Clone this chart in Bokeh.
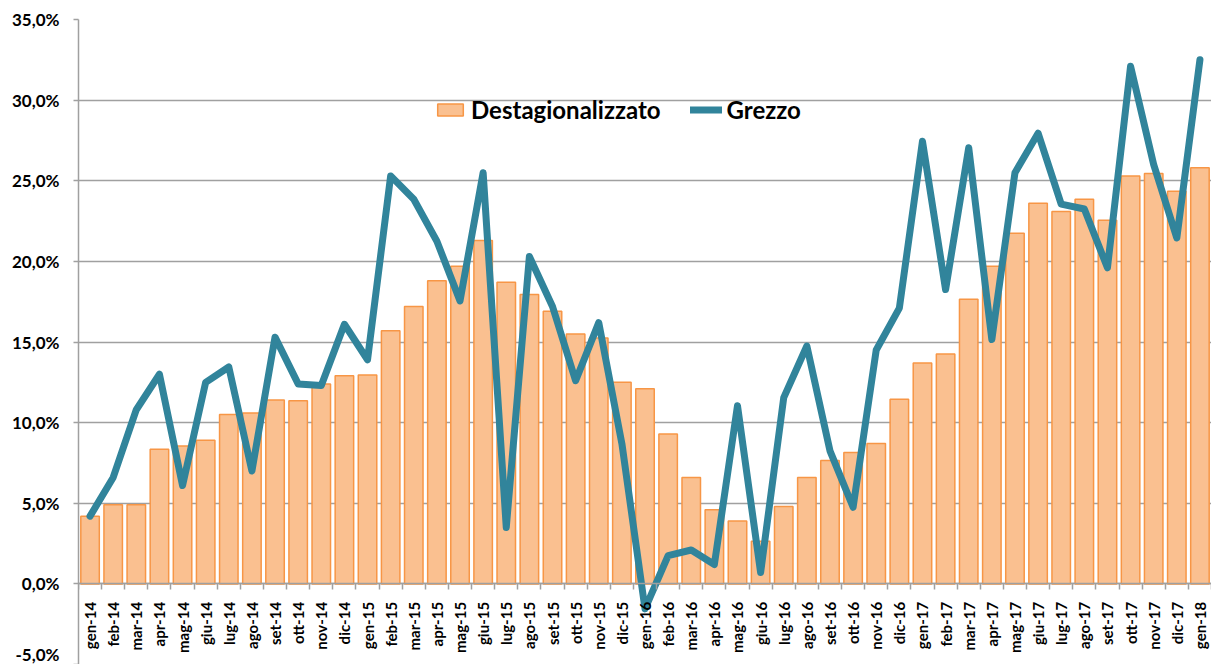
from bokeh.plotting import figure
from bokeh.models import (Range1d, LinearAxis, FixedTicker, CustomJSTickFormatter,
                          ColumnDataSource, Legend, LegendItem)
from bokeh.embed import file_html
from bokeh.resources import INLINE

months = ["gen-14", "feb-14", "mar-14", "apr-14", "mag-14", "giu-14", "lug-14", "ago-14", "set-14", "ott-14", "nov-14", "dic-14",
          "gen-15", "feb-15", "mar-15", "apr-15", "mag-15", "giu-15", "lug-15", "ago-15", "set-15", "ott-15", "nov-15", "dic-15",
          "gen-16", "feb-16", "mar-16", "apr-16", "mag-16", "giu-16", "lug-16", "ago-16", "set-16", "ott-16", "nov-16", "dic-16",
          "gen-17", "feb-17", "mar-17", "apr-17", "mag-17", "giu-17", "lug-17", "ago-17", "set-17", "ott-17", "nov-17", "dic-17",
          "gen-18"]

destagionalizzato = [4.2, 4.9, 4.9, 8.35, 8.55, 8.9, 10.5, 10.6, 11.4, 11.35, 12.4, 12.9,
                     12.95, 15.7, 17.2, 18.8, 19.7, 21.3, 18.7, 17.95, 16.9, 15.5, 15.25, 12.5,
                     12.1, 9.3, 6.6, 4.6, 3.9, 2.65, 4.8, 6.6, 7.65, 8.15, 8.7, 11.45,
                     13.7, 14.25, 17.65, 19.7, 21.75, 23.6, 23.1, 23.85, 22.55, 25.3, 25.45, 24.35,
                     25.8]

grezzo = [4.2, 6.6, 10.8, 13.0, 6.1, 12.5, 13.45, 7.0, 15.3, 12.4, 12.3, 16.1,
          13.9, 25.3, 23.85, 21.25, 17.55, 25.5, 3.5, 20.3, 17.2, 12.6, 16.2, 8.7,
          -1.55, 1.75, 2.1, 1.2, 11.05, 0.7, 11.55, 14.75, 8.25, 4.75, 14.5, 17.1,
          27.45, 18.25, 27.05, 15.15, 25.5, 27.95, 23.55, 23.25, 19.6, 32.1, 26.0, 21.45,
          32.5]

y_ticks = [-5, 0, 5, 10, 15, 20, 25, 30, 35]

FONT = "Lato"
n = len(months)
xc = [i + 0.5 for i in range(n)]
src = ColumnDataSource(dict(x=xc, d=destagionalizzato, g=grezzo, m=months))

p = figure(width=1211, height=664, output_backend="svg", toolbar_location=None,
           x_range=Range1d(0, n), y_range=Range1d(-5, 35),
           x_axis_location=None, y_axis_location=None,
           min_border_left=78, min_border_top=19, min_border_bottom=0, min_border_right=0)
p.outline_line_color = None
p.background_fill_color = "white"

grid_color = "#A0A0A0"

# y axis
yax = LinearAxis(ticker=FixedTicker(ticks=y_ticks),
                 formatter=CustomJSTickFormatter(code="return tick.toFixed(1).replace('.', ',') + '%';"))
yax.axis_line_color = grid_color
yax.axis_line_width = 1.5
yax.major_tick_line_color = grid_color
yax.major_tick_line_width = 1.5
yax.major_tick_out = 5
yax.major_tick_in = 0
yax.minor_tick_line_color = None
yax.major_label_text_font = FONT
yax.major_label_text_font_style = "bold"
yax.major_label_text_font_size = "17px"
yax.major_label_text_color = "black"
yax.major_label_standoff = 14
p.add_layout(yax, "left")

p.ygrid.ticker = FixedTicker(ticks=y_ticks)
p.ygrid.grid_line_color = grid_color
p.ygrid.grid_line_width = 1.5
p.xgrid.grid_line_color = None

# x axis with tick marks at category boundaries
xax_ticks = LinearAxis(ticker=FixedTicker(ticks=list(range(n + 1))), fixed_location=0,
                       formatter=CustomJSTickFormatter(code="return '';"))
xax_ticks.axis_line_color = grid_color
xax_ticks.axis_line_width = 1.5
xax_ticks.major_tick_line_color = grid_color
xax_ticks.major_tick_line_width = 1.5
xax_ticks.major_tick_out = 6
xax_ticks.major_tick_in = 0
xax_ticks.minor_tick_line_color = None
xax_ticks.major_label_text_font_size = "0px"
p.add_layout(xax_ticks, "below")

# x axis labels at category centres
xax_lab = LinearAxis(ticker=FixedTicker(ticks=xc), fixed_location=0,
                     formatter=CustomJSTickFormatter(args=dict(labels=months),
                                                     code="return labels[Math.floor(tick)] || '';"))
xax_lab.axis_line_color = None
xax_lab.major_tick_line_color = None
xax_lab.minor_tick_line_color = None
xax_lab.major_label_orientation = 3.14159265 / 2
xax_lab.major_label_text_font = FONT
xax_lab.major_label_text_font_style = "bold"
xax_lab.major_label_text_font_size = "15px"
xax_lab.major_label_text_color = "black"
xax_lab.major_label_standoff = 12
p.add_layout(xax_lab, "below")

bars = p.vbar(x="x", top="d", bottom=0, width=0.8, source=src,
              fill_color="#FAC090", line_color="#F79646", line_width=1.5)
ln = p.line(x="x", y="g", source=src, line_color="#31849B", line_width=7,
            line_join="round", line_cap="round")

legend = Legend(items=[LegendItem(label="Destagionalizzato", renderers=[bars]),
                       LegendItem(label="Grezzo", renderers=[ln])],
                orientation="horizontal", location=(356, 540))
legend.background_fill_alpha = 0
legend.border_line_color = None
legend.label_text_font = FONT
legend.label_text_font_style = "bold"
legend.label_text_font_size = "24px"
legend.label_text_color = "black"
legend.glyph_width = 32
legend.glyph_height = 15
legend.spacing = 29
legend.padding = 0
legend.margin = 0
legend.label_standoff = 5
p.add_layout(legend, "center")

open("out.html", "w").write(file_html(p, INLINE))
